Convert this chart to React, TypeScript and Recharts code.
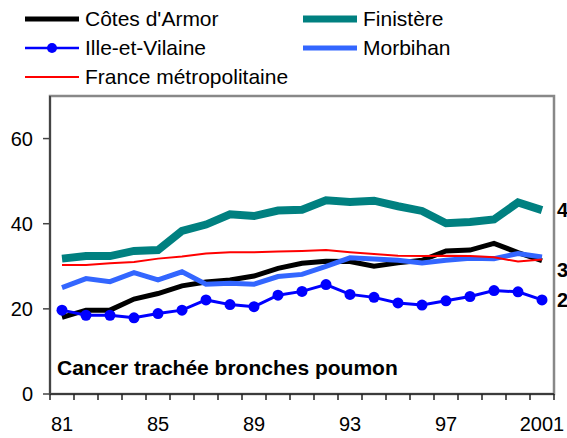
import React from "react";
import {
  LineChart,
  Line,
  XAxis,
  YAxis,
  Legend,
  ReferenceArea,
  LabelList,
} from "recharts";

// years 1981 -> 2001
const YEARS = [
  1981, 1982, 1983, 1984, 1985, 1986, 1987, 1988, 1989, 1990, 1991,
  1992, 1993, 1994, 1995, 1996, 1997, 1998, 1999, 2000, 2001,
];

const COTES = [
  18.0, 19.7, 19.7, 22.3, 23.6, 25.4, 26.3, 26.8, 27.7, 29.5, 30.7,
  31.2, 31.1, 30.0, 30.8, 31.4, 33.6, 33.8, 35.4, 33.2, 31.3,
];
const FINISTERE = [
  31.8, 32.4, 32.4, 33.6, 33.8, 38.3, 39.8, 42.2, 41.8, 43.1, 43.3,
  45.5, 45.1, 45.4, 44.1, 43.0, 40.1, 40.4, 41.0, 45.0, 43.2,
];
const ILLE = [
  19.7, 18.5, 18.5, 17.9, 18.9, 19.7, 22.1, 21.0, 20.5, 23.2, 24.1,
  25.7, 23.4, 22.7, 21.4, 20.9, 21.9, 22.9, 24.3, 24.0, 22.1,
];
const MORBIHAN = [
  25.0, 27.1, 26.4, 28.5, 26.8, 28.7, 25.8, 26.0, 25.8, 27.6, 28.1,
  30.0, 32.0, 31.7, 31.4, 30.8, 31.4, 31.9, 31.8, 33.0, 32.2,
];
const FRANCE = [
  30.3, 30.3, 30.7, 31.0, 31.8, 32.3, 33.0, 33.3, 33.3, 33.5, 33.6,
  33.8, 33.3, 32.9, 32.5, 32.4, 32.5, 32.4, 32.1, 31.1, 31.6,
];

const LABEL_YEARS = [1981, 1985, 1989, 1993, 1997, 2001];
const LABEL_TEXT = ["81", "85", "89", "93", "97", "2001"];
const Y_TICKS = [0, 20, 40, 60];

const TITLE = "Cancer trachée bronches poumon";

const data = YEARS.map((year, i) => ({
  year,
  cotes: COTES[i],
  finistere: FINISTERE[i],
  ille: ILLE[i],
  morbihan: MORBIHAN[i],
  france: FRANCE[i],
}));

// tick marks sit between the years, like the old spreadsheet chart
const BOUNDARIES = YEARS.map((y) => y - 0.5).concat(
  YEARS[YEARS.length - 1] + 0.5
);

const FONT = "'Liberation Sans', Arial, sans-serif";
const W = 567;
const H = 438;
const MARGIN = { top: 0, right: 13, bottom: 0, left: 0 };
const Y_AXIS_W = 50;
const PLOT_W = W - Y_AXIS_W - MARGIN.right;

const LEGEND = [
  { name: "Côtes d'Armor", color: "#000000", width: 5, dot: false, col: 0, row: 0 },
  { name: "Finistère", color: "#008080", width: 7, dot: false, col: 1, row: 0 },
  { name: "Ille-et-Vilaine", color: "#0000FF", width: 2.5, dot: true, col: 0, row: 1 },
  { name: "Morbihan", color: "#3366FF", width: 5, dot: false, col: 1, row: 1 },
  { name: "France métropolitaine", color: "#FF0000", width: 2, dot: false, col: 0, row: 2 },
];

const renderLegend = () => (
  <div style={{ position: "relative", width: W, height: 96, fontFamily: FONT, fontSize: 21 }}>
    {LEGEND.map((item) => (
      <div
        key={item.name}
        style={{
          position: "absolute",
          left: item.col === 0 ? 25 : 303,
          top: 19 + item.row * 29 - 12,
          height: 24,
          display: "flex",
          alignItems: "center",
          whiteSpace: "nowrap",
          color: "#000",
        }}
      >
        <svg width={54} height={14} style={{ marginRight: 6 }}>
          <line x1={0} y1={7} x2={54} y2={7} stroke={item.color} strokeWidth={item.width} />
          {item.dot && <circle cx={27} cy={7} r={5} fill={item.color} />}
        </svg>
        <span>{item.name}</span>
      </div>
    ))}
  </div>
);

const renderXTick = (props: any) => {
  const { x, y, payload } = props;
  const half = PLOT_W / YEARS.length / 2;
  const idx = LABEL_YEARS.indexOf(payload.value + 0.5);
  if (idx < 0) return <g />;
  return (
    <text
      x={x + half}
      y={y}
      dy="0.71em"
      textAnchor="middle"
      fill="#000"
      fontSize={20}
      fontFamily={FONT}
    >
      {LABEL_TEXT[idx]}
    </text>
  );
};

const endLabel = (dy: number) => (props: any) => {
  const { index, value } = props;
  const x = props.x ?? props.viewBox?.x;
  const y = props.y ?? props.viewBox?.y;
  if (index !== YEARS.length - 1) return null;
  return (
    <text
      x={x + 15}
      y={y + dy}
      dy="0.36em"
      fill="#000"
      fontSize={20}
      fontWeight="bold"
      fontFamily={FONT}
    >
      {Math.round(value)}
    </text>
  );
};

const App = () => {
  return (
    <div
      style={{
        position: "absolute",
        top: 0,
        left: 0,
        width: W,
        height: H,
        overflow: "hidden",
        background: "#fff",
        fontFamily: FONT,
      }}
    >
      <LineChart width={W} height={H} data={data} margin={MARGIN}>
        <Legend
          verticalAlign="top"
          align="left"
          content={renderLegend}
          wrapperStyle={{ top: 0, left: 0, margin: 0 }}
        />

        <ReferenceArea
          x1={BOUNDARIES[0]}
          x2={BOUNDARIES[BOUNDARIES.length - 1]}
          y1={0}
          y2={70}
          fill="none"
          stroke="#888"
          strokeWidth={2.5}
        />

        <XAxis
          dataKey="year"
          type="number"
          domain={[BOUNDARIES[0], BOUNDARIES[BOUNDARIES.length - 1]]}
          ticks={BOUNDARIES}
          interval={0}
          height={44}
          tickSize={6}
          tickMargin={17}
          axisLine={{ stroke: "#222", strokeWidth: 1.5 }}
          tickLine={{ stroke: "#222", strokeWidth: 1.5 }}
          tick={renderXTick}
        />

        <YAxis
          domain={[0, 70]}
          ticks={Y_TICKS}
          width={Y_AXIS_W}
          tickSize={7}
          tickMargin={10}
          axisLine={{ stroke: "#444", strokeWidth: 2 }}
          tickLine={{ stroke: "#444", strokeWidth: 1.5 }}
          tick={{ fill: "#000", fontSize: 20, fontFamily: FONT }}
        />

        <Line
          dataKey="finistere"
          stroke="#008080"
          strokeWidth={8}
          dot={false}
          isAnimationActive={false}
        >
          <LabelList dataKey="finistere" content={endLabel(0)} />
        </Line>
        <Line
          dataKey="cotes"
          stroke="#000000"
          strokeWidth={5}
          dot={false}
          isAnimationActive={false}
        >
          <LabelList dataKey="cotes" content={endLabel(9)} />
        </Line>
        <Line
          dataKey="morbihan"
          stroke="#3366FF"
          strokeWidth={5}
          dot={false}
          isAnimationActive={false}
        />
        <Line
          dataKey="france"
          stroke="#FF0000"
          strokeWidth={2}
          dot={false}
          isAnimationActive={false}
        />
        <Line
          dataKey="ille"
          stroke="#0000FF"
          strokeWidth={3}
          dot={{ r: 5.5, fill: "#0000FF", stroke: "#0000FF", strokeWidth: 0 }}
          isAnimationActive={false}
        >
          <LabelList dataKey="ille" content={endLabel(0)} />
        </Line>
      </LineChart>

      <div
        style={{
          position: "absolute",
          left: 57,
          top: 356,
          fontSize: 21,
          fontWeight: "bold",
          color: "#000",
          whiteSpace: "nowrap",
          lineHeight: "24px",
        }}
      >
        {TITLE}
      </div>
    </div>
  );
};

export default App;
